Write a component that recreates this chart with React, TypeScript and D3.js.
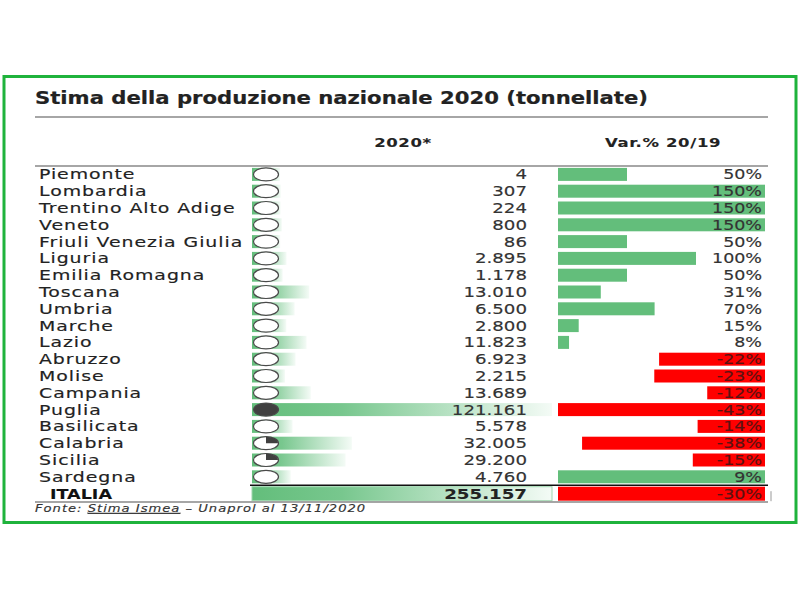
import React from "react";
import * as d3 from "d3";

const regions = [
  "Piemonte", "Lombardia", "Trentino Alto Adige", "Veneto", "Friuli Venezia Giulia",
  "Liguria", "Emilia Romagna", "Toscana", "Umbria", "Marche", "Lazio", "Abruzzo",
  "Molise", "Campania", "Puglia", "Basilicata", "Calabria", "Sicilia", "Sardegna",
];
const production = [4, 307, 224, 800, 86, 2895, 1178, 13010, 6500, 2800, 11823, 6923, 2215, 13689, 121161, 5578, 32005, 29200, 4760];
const productionLabels = ["4", "307", "224", "800", "86", "2.895", "1.178", "13.010", "6.500", "2.800", "11.823", "6.923", "2.215", "13.689", "121.161", "5.578", "32.005", "29.200", "4.760"];
// harvey ball fill share as drawn
const iconFill = [0, 0, 0, 0, 0, 0, 0, 0, 0, 0, 0, 0, 0, 0, 1, 0, 0.25, 0.25, 0];
const varLabels = ["50%", "150%", "150%", "150%", "50%", "100%", "50%", "31%", "70%", "15%", "8%", "-22%", "-23%", "-12%", "-43%", "-14%", "-38%", "-15%", "9%"];
// data-bar magnitude as drawn in the picture
const varBars = [50, 150, 150, 150, 50, 100, 50, 31, 70, 15, 8, -22, -23, -12, -43, -14, -38, -15, 150];
const totalLabel = "ITALIA";
const totalProduction = 255157;
const totalProductionLabel = "255.157";
const totalVarLabel = "-30%";
const totalVarBar = -43;

const title = "Stima della produzione nazionale 2020 (tonnellate)";
const colHeader1 = "2020*";
const colHeader2 = "Var.% 20/19";

const FONT = "'DejaVu Sans', Verdana, sans-serif";
const GREEN = "#63be7b";
const RED = "#ff0000";

type TProps = {
  x: number; y: number; sx: number; size: number; anchor?: string; weight?: string;
  fill?: string; ls?: number; italic?: boolean; children: React.ReactNode;
};
function T({ x, y, sx, size, anchor = "start", weight = "normal", fill = "#222", ls = 0, italic = false, children }: TProps) {
  return (
    <text
      transform={`translate(${x},${y}) scale(${sx},1)`}
      textAnchor={anchor}
      fontFamily={FONT}
      fontSize={size}
      fontWeight={weight}
      fontStyle={italic ? "italic" : "normal"}
      fill={fill}
      stroke={fill}
      strokeWidth={weight === "bold" ? 0.1 : 0.15}
      letterSpacing={ls}
    >
      {children}
    </text>
  );
}

export default function App() {
  const rows = [...regions, totalLabel];
  const y = d3.scaleBand<string>().domain(rows).range([166, 166 + 16.8 * rows.length]).paddingInner(0);
  const bh = 13;
  const prodX0 = 252;
  const prodLen = d3.scaleLinear().domain([0, 121161]).range([28, 300]);
  const totalLen = d3.scaleLinear().domain([0, totalProduction]).range([0, 300]);
  const varX0 = 558;
  const varX1 = 765;
  const posLen = d3.scaleLinear().domain([0, 150]).range([0, varX1 - varX0]);
  const negLen = d3.scaleLinear().domain([0, 43]).range([0, varX1 - varX0]);
  const cx = 266;

  const pie = (frac: number, yc: number) => {
    const arc = d3.arc()({ innerRadius: 0, outerRadius: 1, startAngle: 0, endAngle: frac * 2 * Math.PI } as any) || "";
    return <path d={arc} transform={`translate(${cx},${yc}) scale(12,6.5)`} fill="#404040" />;
  };

  const yT = y(totalLabel)!;
  return (
    <svg width={800} height={600} style={{ position: "absolute", left: 0, top: 0, background: "#fff" }}>
      <defs>
        <linearGradient id="gbar" x1="0" x2="1" y1="0" y2="0">
          <stop offset="0" stopColor={GREEN} />
          <stop offset="0.3" stopColor="#78c78e" />
          <stop offset="1" stopColor="#f4fbf6" />
        </linearGradient>
      </defs>
      <rect x={4} y={76.5} width={792} height={446} fill="#fff" stroke="#1fb33c" strokeWidth={3} />
      <text x={35} y={104} fontFamily={FONT} fontWeight="bold" fontSize={17} fill="#222" stroke="#222" strokeWidth={0.2} textLength={613} lengthAdjust="spacingAndGlyphs">{title}</text>
      <line x1={35} x2={768} y1={117} y2={117} stroke="#888" strokeWidth={1.5} />
      <T x={403} y={147} sx={1.27} size={13} anchor="middle" weight="bold" ls={0.5}>{colHeader1}</T>
      <T x={663} y={147} sx={1.27} size={13} anchor="middle" weight="bold" ls={0.5}>{colHeader2}</T>
      <line x1={35} x2={768} y1={166} y2={166} stroke="#888" strokeWidth={1.5} />

      {regions.map((r, i) => {
        const yc = y(r)! + y.bandwidth() / 2;
        const v = varBars[i];
        const w = v >= 0 ? posLen(v) : negLen(-v);
        const bx = v >= 0 ? varX0 : varX1 - w;
        return (
          <g key={r}>
            <T x={39} y={yc + 5} sx={1.35} size={14} ls={0.7}>{r}</T>
            <rect x={prodX0} y={yc - bh / 2} width={prodLen(production[i])} height={bh} fill="url(#gbar)" />
            <ellipse cx={cx} cy={yc} rx={12.5} ry={6.5} fill={iconFill[i] >= 1 ? "#404040" : "#fff"} stroke="#4a4a4a" strokeWidth={1.2} />
            {iconFill[i] > 0 && iconFill[i] < 1 && pie(iconFill[i], yc)}
            <T x={527} y={yc + 5} sx={1.3} size={14} anchor="end" fill="#333">{productionLabels[i]}</T>
            <rect x={bx} y={yc - bh / 2} width={w} height={bh} fill={v >= 0 ? GREEN : RED} />
            <T x={762} y={yc + 5} sx={1.25} size={14} anchor="end" fill={v >= 0 ? "#333" : "#5a1212"}>{varLabels[i]}</T>
          </g>
        );
      })}

      <g>
        <rect x={prodX0} y={yT + 1.5} width={totalLen(totalProduction)} height={bh + 1} fill="url(#gbar)" stroke="#9fd6ae" strokeWidth={1} />
        <T x={50} y={yT + 13.5} sx={1.3} size={13.5} weight="bold" fill="#111">{totalLabel}</T>
        <T x={527} y={yT + 13.5} sx={1.3} size={14} anchor="end" weight="bold" fill="#222">{totalProductionLabel}</T>
        <rect x={varX1 - negLen(-totalVarBar)} y={yT + 1.5} width={negLen(-totalVarBar)} height={bh + 1} fill={RED} />
        <T x={762} y={yT + 13.5} sx={1.25} size={14} anchor="end" fill="#5a1212">{totalVarLabel}</T>
      </g>
      <line x1={250} x2={768} y1={yT} y2={yT} stroke="#111" strokeWidth={1.5} />
      <line x1={35} x2={768} y1={yT + 16.8} y2={yT + 16.8} stroke="#888" strokeWidth={1.5} />
      <line x1={771} x2={771} y1={yT + 6} y2={yT + 16} stroke="#999" strokeWidth={1} />

      <T x={35} y={512} sx={1.25} size={10.5} italic fill="#333" ls={0.8}>
        Fonte: <tspan style={{ textDecoration: "underline", textDecorationColor: "#4a7bd0" }}>Stima Ismea</tspan> – Unaprol al 13/11/2020
      </T>
    </svg>
  );
}
